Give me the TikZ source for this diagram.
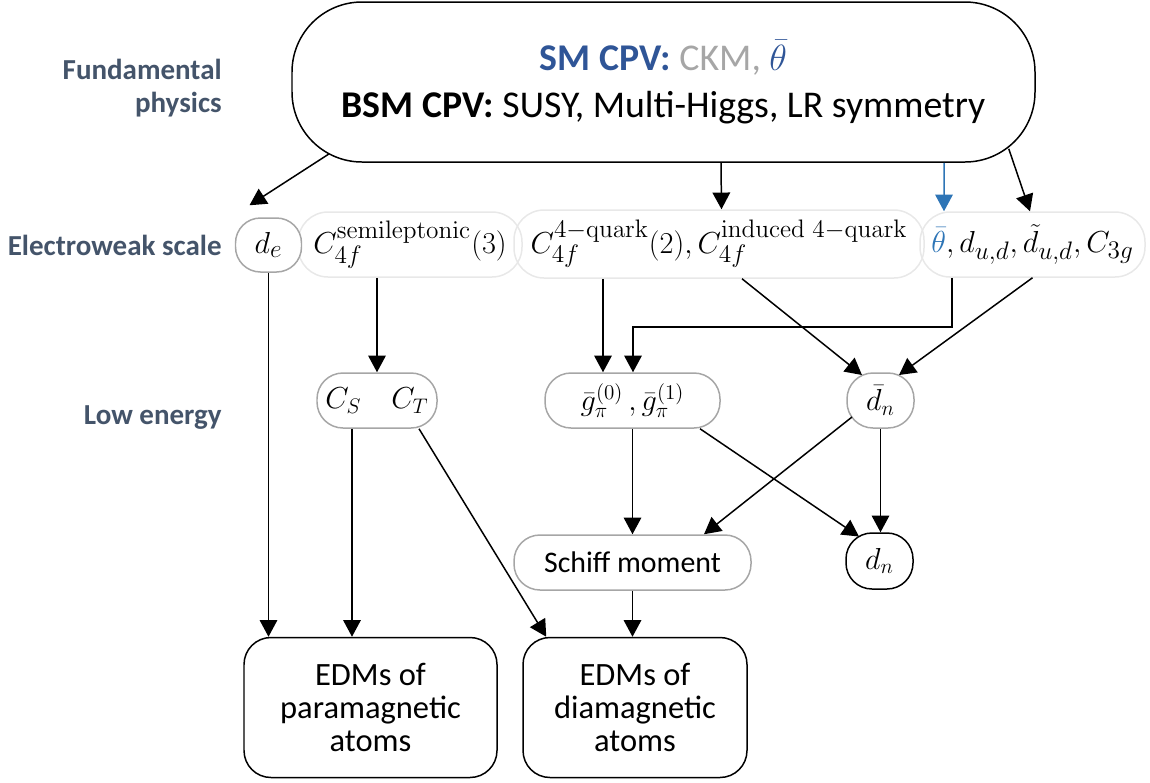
\documentclass[tikz,border=0pt]{standalone}
\usepackage[no-math]{fontspec}
\setmainfont{Carlito}
\usetikzlibrary{arrows.meta,calc}
\DeclareMathSizes{19}{19}{14}{10}
\DeclareMathSizes{18}{18}{13.5}{10}
\DeclareMathSizes{17}{17}{12.5}{9}
\definecolor{slate}{HTML}{44546A}
\definecolor{smblue}{HTML}{2F5597}
\definecolor{ckmgray}{HTML}{A6A6A6}
\definecolor{thblue}{HTML}{2E75B6}
\definecolor{boxgray}{HTML}{A6A6A6}
\definecolor{faint}{HTML}{E8E8E8}
\begin{document}
\begin{tikzpicture}[x=0.02cm,y=-0.02cm,
 sz/.style 2 args={minimum width=#1*0.02cm, minimum height=#2*0.02cm, inner sep=0pt},
 rc/.style={rounded corners=#1*0.02cm},
 blackbox/.style={draw=black, line width=0.85pt},
 graybox/.style={draw=boxgray, line width=0.85pt},
 faintbox/.style={draw=faint, line width=0.85pt},
 lbl/.style={anchor=east, align=right, inner sep=0pt, text=slate, font=\fontsize{16.5}{19}\selectfont\bfseries},
 arr/.style={draw=black, line width=0.85pt, -{Triangle[length=9.5pt,width=10pt]}},
 bluearr/.style={arr, draw=thblue, -{Triangle[length=9.5pt,width=10pt,color=thblue]}},
 ewmath/.style={font=\fontsize{19}{22}\selectfont},
 thmath/.style={font=\fontsize{18}{22}\selectfont},
 lemath/.style={font=\fontsize{17}{20}\selectfont},
 edm/.style={blackbox, rc=27, sz={#1}{140}, align=center, font=\fontsize{18.5}{19}\selectfont},
]
\useasboundingbox (0,0) rectangle (1150,782);

% row labels
\node[lbl] (lfund) at (222,88) {Fundamental\\physics};
\node[lbl] (lew) at (222,245) {Electroweak scale};
\node[lbl] (llow) at (222,418) {Low energy};

% top
\node[blackbox, rc=70, sz={743}{160}, align=center, font=\fontsize{21.5}{27}\selectfont] (top) at (663.5,82)
 {{\bfseries\color{smblue}SM CPV:} {\color{ckmgray}CKM,} {\color{smblue}$\bar\theta$}\\
  {\bfseries BSM CPV:} SUSY, Multi-Higgs, LR symmetry};

% electroweak scale
\node[faintbox, rc=30, sz={224}{65}, ewmath] (semi) at (410,244.5) {$C_{4f}^{\mathrm{semileptonic}}(3)$};
\node[faintbox, rc=30, sz={410}{68}, ewmath] (fourq) at (719,244) {$C_{4f}^{\mathrm{4-quark}}(2), C_{4f}^{\mathrm{induced\ 4-quark}}$};
\node[faintbox, rc=30, sz={225}{65}, thmath] (theta) at (1032.5,244.5) {${\color{thblue}\bar\theta}, d_{u,d}, \tilde d_{u,d}, C_{3g}$};
\node[graybox, fill=white, rc=25, sz={66}{54}, thmath] (de) at (268.5,245) {$d_e$};

% low energy
\node[graybox, rc=26, sz={120}{55}, lemath] (cs) at (377,400.5) {$C_S\quad C_T$};
\node[graybox, rc=26, sz={175}{55}, lemath] (gpi) at (632.5,400.5) {$\bar g_\pi^{(0)}\,, \bar g_\pi^{(1)}$};
\node[graybox, rc=26, sz={67}{55}, lemath] (dnbar) at (880.5,400.5) {$\bar d_n$};
\node[graybox, rc=26, sz={237}{55}, font=\fontsize{17}{20}\selectfont] (schiff) at (632.5,562.5) {Schiff moment};
\node[blackbox, rc=26, sz={67}{56}, lemath] (dn) at (879.5,561) {$d_n$};

% atoms
\node[edm=253] (para) at (370.5,707.5) {EDMs of\\paramagnetic\\atoms};
\node[edm=224] (dia) at (635,707.5) {EDMs of\\diamagnetic\\atoms};

% connectors
\draw[arr] ($(top.south west)+(38,-9)$) -- ($(de.north)+(-19,-12)$);
\draw[arr] ($(top.south)+(57.5,0)$) -- ($(fourq.north)+(2.5,0)$);
\draw[bluearr] ($(top.south)+(280.5,0)$) -- ($(theta.north)+(-88.5,0)$);
\draw[arr] ($(top.south east)+(-27,-14)$) -- ($(theta.north)+(-2.5,0)$);

\draw[arr] (de.south) -- (de.south |- para.north);
\draw[arr] ($(semi.south)+(-33,0)$) -- (cs.north);
\draw[arr] ($(fourq.south)+(-116,0)$) -- ($(gpi.north)+(-29.5,0)$);
\draw[arr] ($(theta.south)+(-80.5,0)$) -- ++(0,49) -| ($(gpi.north)+(0.5,0)$);
\draw[arr] ($(fourq.south)+(23,0)$) -- ($(dnbar.center)+(-18.5,-25.5)$);
\draw[arr] (theta.south) -- ($(dnbar.center)+(18.5,-25.5)$);

\draw[arr] ($(cs.south)+(-25,0)$) -- ($(cs.south |- para.north)+(-25,0)$);
\draw[arr] ($(cs.south)+(42,0)$) -- ($(dia.north west)+(24,0)$);
\draw[arr] (gpi.south) -- (gpi.south |- schiff.north);
\draw[arr] ($(gpi.south)+(67.5,0)$) -- ($(dn.center)+(-20.5,-24.5)$);
\draw[arr] ($(dnbar.center)+(-28.5,16.5)$) -- ($(schiff.north)+(71.5,0)$);
\draw[arr] (dnbar.south) -- (dnbar.south |- dn.north);
\draw[arr] (schiff.south) -- (schiff.south |- dia.north);
\end{tikzpicture}
\end{document}
